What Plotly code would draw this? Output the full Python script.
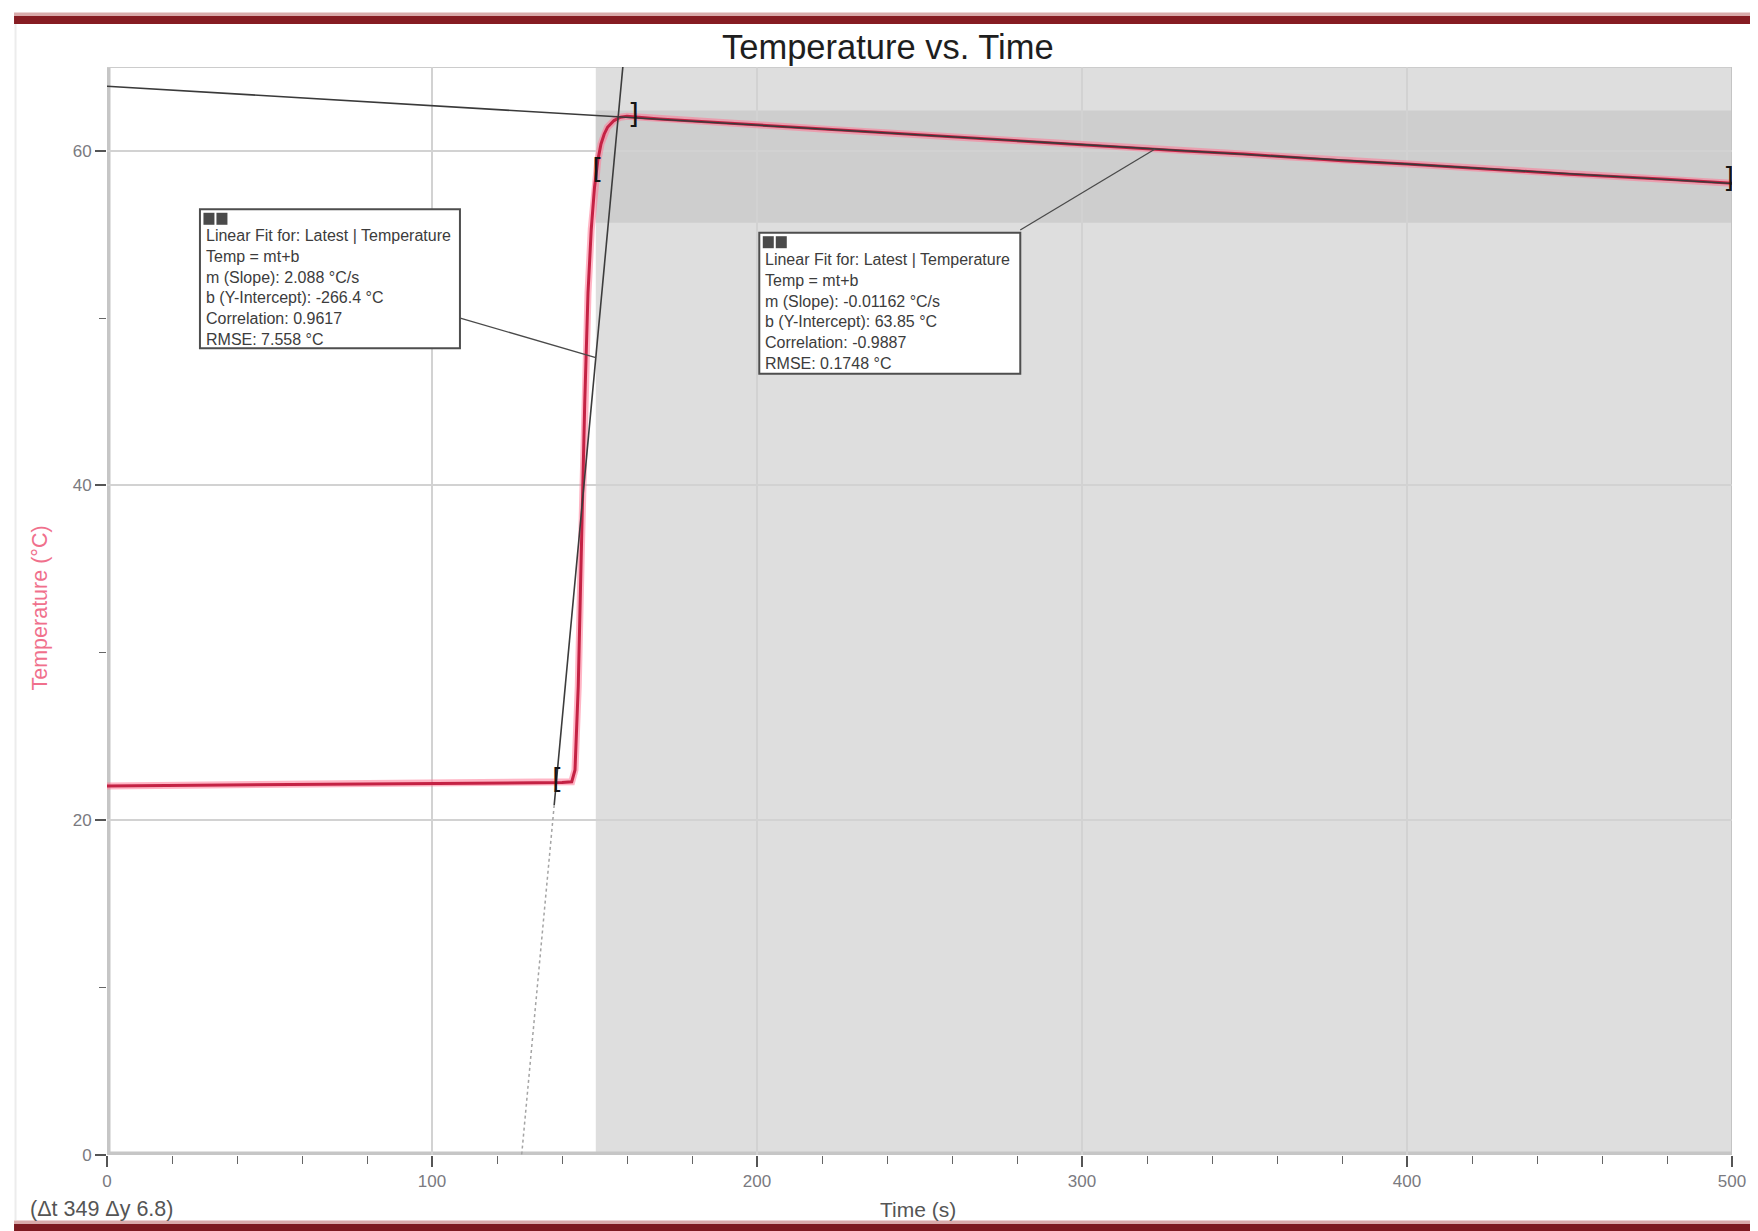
import plotly.graph_objects as go

# ---------------- data ----------------
time_s = [0, 20, 40, 60, 80, 100, 120, 140, 143, 144, 145, 146, 147, 148, 149,
          150, 151, 152, 153, 154, 156, 158, 160, 170, 180, 200, 220, 250, 280,
          300, 330, 350, 380, 400, 430, 450, 480, 500]
temp_c = [22.05, 22.08, 22.10, 22.12, 22.15, 22.18, 22.20, 22.25, 22.30, 23.0,
          28.0, 36.5, 45.0, 51.5, 55.3, 57.8, 59.4, 60.4, 61.0, 61.4, 61.8,
          62.0, 62.05, 61.9, 61.78, 61.55, 61.3, 60.95, 60.6, 60.35, 60.0,
          59.8, 59.4, 59.2, 58.85, 58.6, 58.3, 58.05]

fit1_m, fit1_b = 2.088, -266.4
fit1_corr, fit1_rmse = 0.9617, 7.558
fit1_solid_t = [137.6, 158.8]
fit1_dotted_t = [127.6, 137.6]

fit2_m, fit2_b = -0.01162, 63.85
fit2_corr, fit2_rmse = -0.9887, 0.1748
fit2_t = [0, 500]

bracket_t = [138.6, 151.0, 162.0, 499.0]
bracket_T = [22.3, 58.7, 62.0, 58.2]
bracket_sym = ["[", "[", "]", "]"]

selection_t = [150.4, 500]
selection_band_T = [55.7, 62.4]

x_ticks = [0, 100, 200, 300, 400, 500]
y_ticks = [0, 20, 40, 60]

# ---------------- layout constants ----------------
OFF = 8  # default page body margin of the written html
W, H = 1758 - OFF, 1231 - OFF
L, R, T, B = 106.5 - OFF, 26, 67 - OFF, 76
PW = W - L - R
PH = H - T - B
FONT = "Liberation Sans, Arial, sans-serif"


def px_x(px):
    # px in window coordinates
    return (px - OFF - L) / PW


def px_y(py):
    return (H - B - (py - OFF)) / PH


def line_T(m, b, ts):
    return [m * t + b for t in ts]


fig = go.Figure()

# data curve (pink halo + red core)
fig.add_trace(go.Scatter(x=time_s, y=temp_c, mode="lines",
                         line=dict(color="rgba(255,120,150,0.55)", width=7),
                         hoverinfo="skip", showlegend=False))
fig.add_trace(go.Scatter(x=time_s, y=temp_c, mode="lines",
                         line=dict(color="#c42244", width=3),
                         showlegend=False))

# fit lines
fig.add_trace(go.Scatter(x=fit1_dotted_t, y=line_T(fit1_m, fit1_b, fit1_dotted_t),
                         mode="lines", line=dict(color="#a4a4a4", width=1.5, dash="dot"),
                         showlegend=False))
fig.add_trace(go.Scatter(x=fit1_solid_t, y=line_T(fit1_m, fit1_b, fit1_solid_t),
                         mode="lines", line=dict(color="#3c3c3c", width=1.6),
                         showlegend=False))
fig.add_trace(go.Scatter(x=fit2_t, y=line_T(fit2_m, fit2_b, fit2_t),
                         mode="lines", line=dict(color="#3a3a3a", width=1.6),
                         showlegend=False))

# range brackets
fig.add_trace(go.Scatter(x=bracket_t, y=bracket_T, mode="text", text=bracket_sym,
                         textposition="middle center",
                         textfont=dict(family="DejaVu Sans, sans-serif", size=28, color="#151515"),
                         showlegend=False))

shapes = []
# selection shading
shapes.append(dict(type="rect", xref="x", yref="y", x0=selection_t[0], x1=selection_t[1],
                   y0=0, y1=65, fillcolor="#dedede", line=dict(width=0), layer="below"))
shapes.append(dict(type="rect", xref="x", yref="y", x0=selection_t[0], x1=selection_t[1],
                   y0=selection_band_T[0], y1=selection_band_T[1], fillcolor="#cecece",
                   line=dict(width=0), layer="below"))
# axis bands
shapes.append(dict(type="line", xref="x", yref="y", x0=0, x1=0, y0=0, y1=65,
                   line=dict(color="#c6c6c6", width=7), layer="below"))
shapes.append(dict(type="line", xref="x", yref="y", x0=-1.1, x1=500, y0=0, y1=0,
                   line=dict(color="#c6c6c6", width=7), layer="below"))
# frame top / right
shapes.append(dict(type="line", xref="x", yref="y", x0=0, x1=500, y0=65, y1=65,
                   line=dict(color="#cccccc", width=2), layer="below"))
shapes.append(dict(type="line", xref="x", yref="y", x0=500, x1=500, y0=0, y1=65,
                   line=dict(color="#c4c4c4", width=2), layer="below"))

# header / footer bars
shapes.append(dict(type="rect", xref="paper", yref="paper", x0=px_x(13.5), x1=px_x(1758),
                   y0=px_y(16), y1=px_y(12.5), fillcolor="#d9aaaa", line=dict(width=0)))
shapes.append(dict(type="rect", xref="paper", yref="paper", x0=px_x(13.5), x1=px_x(1758),
                   y0=px_y(24), y1=px_y(16), fillcolor="#861c22", line=dict(width=0)))
shapes.append(dict(type="rect", xref="paper", yref="paper", x0=px_x(13.5), x1=px_x(1758),
                   y0=px_y(1224), y1=px_y(1220.5), fillcolor="#d9aaaa", line=dict(width=0)))
shapes.append(dict(type="rect", xref="paper", yref="paper", x0=px_x(13.5), x1=px_x(1758),
                   y0=px_y(1231), y1=px_y(1224), fillcolor="#7c1a20", line=dict(width=0)))
shapes.append(dict(type="line", xref="paper", yref="paper", x0=px_x(15), x1=px_x(15),
                   y0=px_y(1220), y1=px_y(24), line=dict(color="#ececec", width=2)))

# fit boxes
boxes = [
    dict(t=28.6, T=56.5, w=260, h=139,
         conn=(108.7, 50.0, 150.4, fit1_m * 150.4 + fit1_b),
         m=fit1_m, b=fit1_b, corr=fit1_corr, rmse=fit1_rmse),
    dict(t=200.7, T=55.1, w=261, h=141,
         conn=(281.0, 55.26, 322.5, fit2_m * 322.5 + fit2_b),
         m=fit2_m, b=fit2_b, corr=fit2_corr, rmse=fit2_rmse),
]
annotations = []
for bx in boxes:
    cx0, cy0, cx1, cy1 = bx["conn"]
    shapes.append(dict(type="line", xref="x", yref="y", x0=cx0, y0=cy0, x1=cx1, y1=cy1,
                       line=dict(color="#4a4a4a", width=1.3)))
    shapes.append(dict(type="rect", xref="x", yref="y", xsizemode="pixel", ysizemode="pixel",
                       xanchor=bx["t"], yanchor=bx["T"], x0=0, x1=bx["w"], y0=0, y1=-bx["h"],
                       fillcolor="white", line=dict(color="#4e4e4e", width=2)))
    for ox in (3.5, 16.5):
        shapes.append(dict(type="rect", xref="x", yref="y", xsizemode="pixel", ysizemode="pixel",
                           xanchor=bx["t"], yanchor=bx["T"], x0=ox, x1=ox + 11, y0=-3.5, y1=-15.5,
                           fillcolor="#4a4a4a", line=dict(width=0)))
    txt = ("Linear Fit for: Latest | Temperature<br>"
           "Temp = mt+b<br>"
           f"m (Slope): {bx['m']} °C/s<br>"
           f"b (Y-Intercept): {bx['b']} °C<br>"
           f"Correlation: {bx['corr']}<br>"
           f"RMSE: {bx['rmse']} °C")
    annotations.append(dict(xref="x", yref="y", x=bx["t"], y=bx["T"], xanchor="left",
                            yanchor="top", xshift=4, yshift=-16, align="left", showarrow=False,
                            text=txt, font=dict(family=FONT, size=16, color="#3c3c3c")))

# titles and labels
annotations.append(dict(xref="paper", yref="paper", x=px_x(888), y=px_y(47), text="Temperature vs. Time",
                        showarrow=False, xanchor="center", yanchor="middle",
                        font=dict(family=FONT, size=34.5, color="#1e1e1e")))
annotations.append(dict(xref="paper", yref="paper", x=px_x(918), y=px_y(1209), text="Time (s)",
                        showarrow=False, xanchor="center", yanchor="middle",
                        font=dict(family=FONT, size=21, color="#555555")))
annotations.append(dict(xref="paper", yref="paper", x=px_x(39), y=px_y(608), text="Temperature (°C)",
                        showarrow=False, xanchor="center", yanchor="middle", textangle=-90,
                        font=dict(family=FONT, size=21.5, color="#f0708c")))
annotations.append(dict(xref="paper", yref="paper", x=px_x(27), y=px_y(1209), text="(Δt 349 Δy 6.8)",
                        showarrow=False, xanchor="left", yanchor="middle",
                        font=dict(family=FONT, size=21.5, color="#555555")))

fig.update_layout(
    width=W, height=H,
    margin=dict(l=L, r=R, t=T, b=B, pad=0),
    paper_bgcolor="white", plot_bgcolor="white",
    showlegend=False,
    shapes=shapes, annotations=annotations,
    xaxis=dict(range=[0, 500], tickvals=x_ticks, ticktext=[str(v) for v in x_ticks],
               showgrid=True, gridcolor="#d2d2d2", gridwidth=1.5, zeroline=False,
               showline=False, ticks="outside", ticklen=11, tickwidth=1.5, tickcolor="#555555",
               minor=dict(dtick=20, tick0=0, ticks="outside", ticklen=8, tickwidth=1.2,
                          tickcolor="#666666", showgrid=False),
               tickfont=dict(family=FONT, size=17, color="#7a7a80"), fixedrange=True),
    yaxis=dict(range=[0, 65], tickvals=y_ticks, ticktext=[str(v) for v in y_ticks],
               showgrid=True, gridcolor="#d2d2d2", gridwidth=1.5, zeroline=False,
               showline=False, ticks="outside", ticklen=11, tickwidth=1.5, tickcolor="#555555",
               minor=dict(dtick=10, tick0=0, ticks="outside", ticklen=7, tickwidth=1.2,
                          tickcolor="#666666", showgrid=False),
               tickfont=dict(family=FONT, size=17, color="#7a7a80"), fixedrange=True),
)

fig.write_html("out.html")
